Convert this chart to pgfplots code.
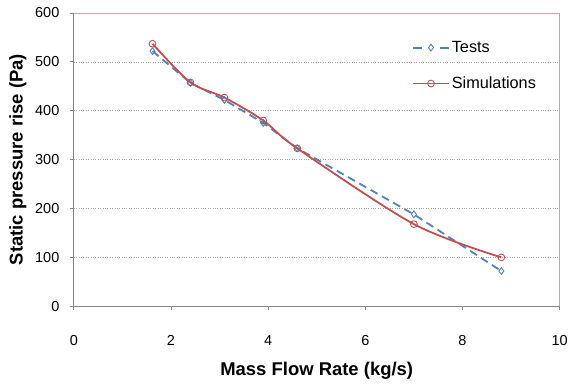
\documentclass[border=0pt]{standalone}
\usepackage{pgfplots}
\pgfplotsset{compat=1.18}
\usepackage{fontspec}
\setmainfont{Liberation Sans}
\definecolor{exblue}{HTML}{4F81BD}
\definecolor{exred}{HTML}{C0504D}
\definecolor{axgray}{HTML}{868686}
\definecolor{frameblue}{HTML}{95B3D7}
\pgfplotsset{
  testsleg/.style={legend image code/.code={\draw[##1, line width=1.8pt, dash pattern=on 9pt off 18pt] (0pt,0pt) -- (36pt,0pt); \draw[##1,solid] plot coordinates {(18pt,0pt)};}},
  simleg/.style={legend image code/.code={\draw[##1, line width=1.8pt] (0pt,0pt) -- (36pt,0pt); \draw[##1,solid] plot coordinates {(18pt,0pt)};}},
}
\begin{document}
\begin{tikzpicture}[x=1pt,y=1pt]
\begin{axis}[
  at={(0,0)}, anchor=south west,
  scale only axis, width=487pt, height=294pt,
  xmin=0, xmax=10, ymin=0, ymax=600,
  xtick={0,2,...,10}, ytick={0,100,...,600},
  axis line style={draw=none},
  tick style={axgray, line width=0.8pt},
  tick align=outside, major tick length=4pt,
  xtick pos=bottom, ytick pos=left,
  ymajorgrids, grid style={gray!70, dotted, line width=0.6pt},
  tick label style={font=\fontsize{14.5}{17}\selectfont},
  /pgf/number format/assume math mode=true,
  xticklabel style={yshift=-30pt, anchor=center},
  yticklabel style={xshift=-7pt},
  xlabel={\textbf{Mass Flow Rate (kg/s)}},
  ylabel={\textbf{Static pressure rise (Pa)}},
  label style={font=\fontsize{18.5}{21}\selectfont},
  xlabel style={at={(axis description cs:0.5,-0.221)}, anchor=center},
  ylabel style={at={(axis description cs:-0.115,0.5)}, anchor=center},
  legend cell align=left,
  legend style={draw=none, fill=none, at={(0.696,0.911)}, anchor=north west,
    font=\fontsize{16.3}{19}\selectfont, row sep=19pt, inner sep=0pt},
  clip=false,
]
\addplot[exblue, line width=1.8pt, dash pattern=on 8pt off 5pt, mark=diamond, mark size=3.4pt, mark options={solid, line width=0.9pt, fill=white}, testsleg]
  coordinates {(1.62,522) (2.4,457) (3.1,422) (3.9,375) (4.6,323) (7.0,188) (8.8,72)};
\addlegendentry{Tests}
\addplot[exred, line width=1.8pt, smooth, tension=0.5, mark=o, mark size=3.4pt, mark options={solid, line width=0.9pt, fill=none}, simleg]
  coordinates {(1.62,537) (2.4,458) (3.1,427) (3.9,380) (4.6,323) (7.0,168) (8.8,100)};
\addlegendentry{Simulations}
\draw[frameblue, line width=0.8pt] (axis cs:0,600) -- (axis cs:10,600) -- (axis cs:10,0);
\draw[axgray, line width=0.8pt] (axis cs:0,600) -- (axis cs:0,0) -- (axis cs:10,0);
\end{axis}
\path (-74pt,-76pt) rectangle (497pt,307pt);
\end{tikzpicture}
\end{document}
